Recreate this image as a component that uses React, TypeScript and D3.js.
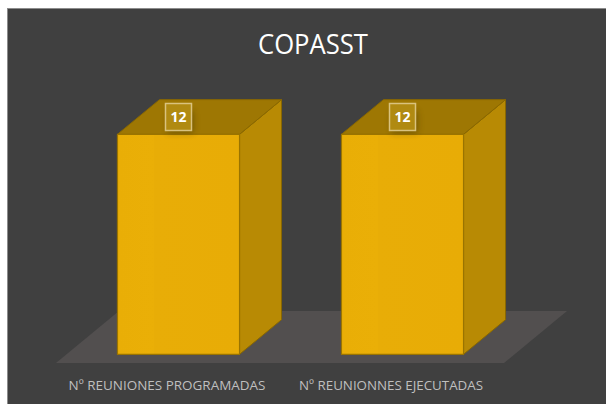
import React from "react";
import * as d3 from "d3";

const categories = ["Nº REUNIONES PROGRAMADAS", "Nº REUNIONNES EJECUTADAS"];
const values = [12, 12];
const title = "COPASST";

const W = 606;
const H = 404;

export default function App() {
  // floor geometry
  const floorFrontY = 363;
  const floorDx = 63;
  const floorDy = -52;
  const depthFrac = 2 / 3;
  const bdx = floorDx * depthFrac;
  const bdy = floorDy * depthFrac;
  const offX = (floorDx * (1 - depthFrac)) / 2;
  const offY = (floorDy * (1 - depthFrac)) / 2;

  const x = d3.scaleBand<string>().domain(categories).range([56, 504]).paddingInner(0).paddingOuter(0);
  const barW = x.bandwidth() * 0.545;
  const baseY = floorFrontY + offY;
  const y = d3.scaleLinear().domain([0, 12]).range([baseY, baseY - 220]);

  const floorPath = d3.path();
  floorPath.moveTo(56, floorFrontY);
  floorPath.lineTo(504, floorFrontY);
  floorPath.lineTo(504 + floorDx, floorFrontY + floorDy);
  floorPath.lineTo(56 + floorDx, floorFrontY + floorDy);
  floorPath.closePath();

  return (
    <svg
      width={W}
      height={H}
      style={{ position: "absolute", left: 0, top: 0, display: "block" }}
      viewBox={`0 0 ${W} ${H}`}
    >
      <defs>
        <filter id="shadow" x="-50%" y="-50%" width="200%" height="200%">
          <feGaussianBlur stdDeviation="3" />
        </filter>
        <linearGradient id="frontGrad" x1="0" y1="0" x2="1" y2="0">
          <stop offset="0" stopColor="#E9AE06" />
          <stop offset="0.3" stopColor="#EAAF07" />
          <stop offset="0.3" stopColor="#E8AD07" />
          <stop offset="1" stopColor="#E8AC06" />
        </linearGradient>
      </defs>
      <rect x={0} y={0} width={W} height={H} fill="#ffffff" />
      <rect x={7.5} y={8.5} width={W - 7} height={H - 8} fill="#404040" stroke="#8c8c8c" strokeWidth={1} />
      <text
        x={313}
        y={54}
        fill="#ffffff"
        fontFamily="'Open Sans', sans-serif"
        fontSize={27}
        textAnchor="middle"
        textLength={110}
        lengthAdjust="spacingAndGlyphs"
      >
        {title}
      </text>
      <path d={floorPath.toString()} fill="#524F4F" />
      {categories.map((c, i) => {
        const cx = (x(c) as number) + x.bandwidth() / 2 + offX;
        const x0 = cx - barW / 2;
        const x1 = cx + barW / 2;
        const yb = y(0);
        const yt = y(values[i]);
        const front = `M${x0},${yt}L${x1},${yt}L${x1},${yb}L${x0},${yb}Z`;
        const side = `M${x1},${yt}L${x1 + bdx},${yt + bdy}L${x1 + bdx},${yb + bdy}L${x1},${yb}Z`;
        const top = `M${x0},${yt}L${x0 + bdx},${yt + bdy}L${x1 + bdx},${yt + bdy}L${x1},${yt}Z`;
        const ly = yt + bdy / 2;
        return (
          <g key={c}>
            <path d={side} fill="#B88A04" stroke="#8A6800" strokeWidth={1} strokeLinejoin="round" />
            <path d={top} fill="#9E7703" stroke="#8A6800" strokeWidth={1} strokeLinejoin="round" />
            <path d={front} fill="url(#frontGrad)" stroke="#9A7400" strokeWidth={1.2} strokeLinejoin="round" />
            <rect x={cx - 11} y={ly - 6} width={26} height={22} fill="#2a2000" opacity={0.35} filter="url(#shadow)" />
            <rect x={cx - 13} y={ly - 13.5} width={26} height={27} fill="#B08A12" stroke="#D9C27E" strokeWidth={1.5} />
            <text
              x={cx}
              y={ly + 5}
              fill="#ffffff"
              fontFamily="'Open Sans', sans-serif"
              fontWeight="bold"
              fontSize={14}
              textAnchor="middle"
            >
              {values[i]}
            </text>
          </g>
        );
      })}
      {categories.map((c, i) => {
        const cx = (x(c) as number) + x.bandwidth() / 2;
        return (
          <text
            key={c}
            x={cx - 1}
            y={390}
            fill="#BFBFBF"
            fontFamily="'Open Sans', sans-serif"
            fontSize={13.5}
            textAnchor="middle"
            textLength={i === 0 ? 197 : 184}
            lengthAdjust="spacingAndGlyphs"
          >
            {c}
          </text>
        );
      })}
    </svg>
  );
}
